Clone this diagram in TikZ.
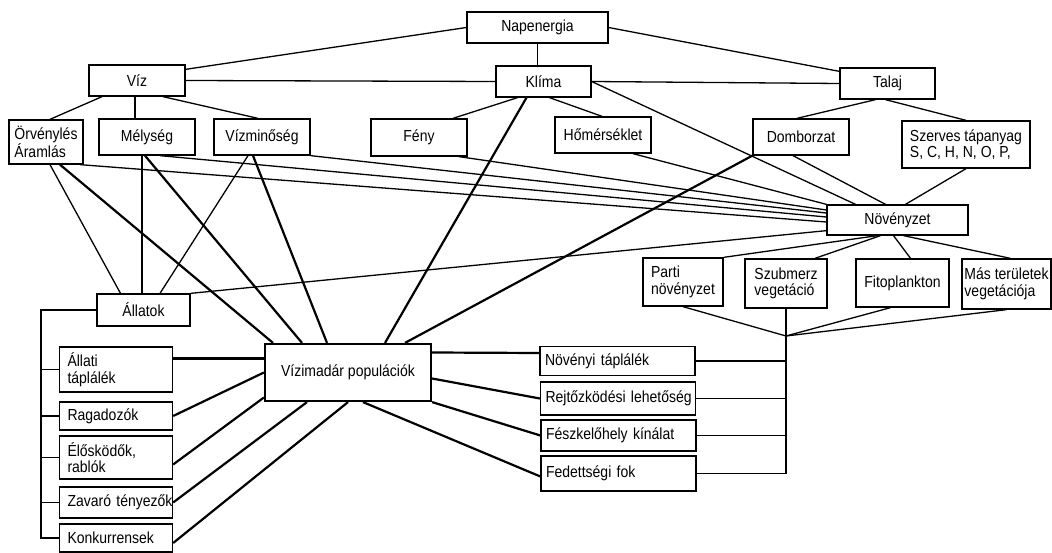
\documentclass[tikz,border=0pt]{standalone}
\usepackage{fontspec}
\setmainfont{Liberation Sans}[FakeStretch=0.875]
\usepackage{tikz}
\tikzset{
  box/.style   = {draw, line width=1.3pt, font=\fontsize{16}{16.5}\selectfont,
                  inner sep=2pt, minimum height=31pt, align=center},
  lbox/.style  = {box, align=left, inner xsep=8pt, text width=#1},
  link/.style  = {line width=1.3pt},
  blink/.style = {line width=2.2pt},
}

\begin{document}
\begin{tikzpicture}[x=1pt, y=-1pt]
\useasboundingbox (0,0) rectangle (1052,553);
\node[box, minimum width=141pt] (napen) at (537.5,27.5) {Napenergia};
\node[box, minimum width=96pt]  (viz)   at (137,80.5)   {Víz};
\node[box, minimum width=95pt]  (klima) at (543.5,81.5) {Klíma};
\node[box, minimum width=95pt]  (talaj) at (887.5,83.5) {Talaj};
\node[box, minimum width=74pt, minimum height=44pt, align=left] (orv) at (46,142) {Örvénylés\\Áramlás};
\node[box, minimum width=96pt, minimum height=36pt] (melyseg) at (147,137)   {Mélység};
\node[box, minimum width=96pt, minimum height=36pt] (vizmin)  at (262,137)   {Vízminőség};
\node[box, minimum width=96pt, minimum height=37pt] (feny)    at (419,137.5) {Fény};
\node[box, minimum width=96pt, minimum height=36pt] (homer)   at (603,135)   {Hőmérséklet};
\node[box, minimum width=96pt, minimum height=36pt] (domb)    at (801,137)   {Domborzat};
\node[box, minimum width=128pt, minimum height=47pt, align=left] (szerves) at (966,144.5) {Szerves tápanyag\\S, C, H, N, O, P,};
\node[box, minimum width=141pt, minimum height=30pt] (noveny) at (897.5,220) {Növényzet};
\node[box, minimum width=80pt, minimum height=48pt, align=left] (parti) at (683,282)   {Parti\\növényzet};
\node[box, minimum width=82pt, minimum height=49pt, align=left] (szubm) at (786,283.5) {Szubmerz\\vegetáció};
\node[box, minimum width=93pt, minimum height=48pt] (fito) at (902.5,283) {Fitoplankton};
\node[box, minimum width=89pt, minimum height=50pt, align=left] (mas) at (1006.5,284) {Más területek\\vegetációja};
\node[box, minimum width=93pt, minimum height=32pt] (allatok) at (143.5,310) {Állatok};
\node[box, line width=2.2pt, minimum width=166pt, minimum height=57pt] (vizim) at (348,372.5) {Vízimadár populációk};
\node[lbox=97pt, minimum height=45pt] (allati) at (116,369.5) {Állati\\táplálék};
\node[lbox=97pt, minimum height=28pt] (ragad)  at (116,416)   {Ragadozók};
\node[lbox=97pt, minimum height=43pt] (elosk)  at (116,457.5) {Élősködők,\\rablók};
\node[lbox=97pt, minimum height=31pt] (zavaro) at (116,502.5) {\mbox{Zavaró tényezők}};
\node[lbox=97pt, minimum height=28pt] (konk)   at (116,538)   {Konkurrensek};
\node[lbox=145pt, inner xsep=5pt, minimum height=29pt] (novtap) at (617.5,361)   {Növényi táplálék};
\node[lbox=145pt, inner xsep=5pt, minimum height=33pt] (rejt)   at (618,398.5)   {\mbox{Rejtőzködési lehetőség}};
\node[lbox=145pt, inner xsep=5pt, minimum height=31pt] (feszk)  at (618.5,435.5) {Fészkelőhely kínálat};
\node[lbox=145pt, inner xsep=5pt, minimum height=35pt] (fedett) at (618.5,473.5) {Fedettségi fok};
\coordinate (lft) at (41,310);
\coordinate (veg) at (786,336);

\draw[link] (napen.west) -- ([yshift=-5pt]viz.north east);
\draw[link] (napen.south) -- (napen.south |- klima.north);
\draw[link] (napen.east) -- ([yshift=-4pt]talaj.north west);
\draw[link] (viz.east) -- (klima.west);
\draw[link] (klima.east) -- (talaj.west);
\draw[link] ([xshift=-35pt]viz.south) -- ([xshift=4pt]orv.north);
\draw[link] ([xshift=-2pt]viz.south) -- ([xshift=-12pt]melyseg.north);
\draw[link] ([xshift=26pt]viz.south) -- ([xshift=-4pt]vizmin.north);
\draw[link] ([xshift=-26pt]klima.south) -- ([xshift=34pt]feny.north);
\draw[link] ([xshift=6pt]klima.south) -- ([xshift=-1pt]homer.north);
\draw[link] ([xshift=-12pt]talaj.south) -- ([xshift=-4pt]domb.north);
\draw[link] ([xshift=-2pt]talaj.south) -- (szerves.north);

\draw[link] (klima.east) -- ([xshift=-42pt]noveny.north);
\draw[link] ([xshift=30pt]homer.south) -- (noveny.north west);
\draw[link] ([xshift=-8pt]domb.south) -- ([xshift=-12pt]noveny.north);
\draw[link] (szerves.south) -- ([xshift=8pt]noveny.north);
\draw[link] ([xshift=40pt]feny.south) -- ([yshift=10pt]noveny.west);
\draw[link] (vizmin.south east) -- ([yshift=7pt]noveny.west);
\draw[link] ([xshift=13pt]melyseg.south) -- ([yshift=3pt]noveny.west);
\draw[link] ([xshift=34pt]orv.south) -- ([yshift=-2pt]noveny.west);
\draw[link] (allatok.north east) -- ([yshift=5pt]noveny.south west);

\draw[link] ([xshift=4pt]orv.south) -- ([xshift=-23pt]allatok.north);
\draw[link] ([xshift=-5pt]melyseg.south) -- ([xshift=-1.5pt]allatok.north);
\draw[link] ([xshift=-14pt]vizmin.south) -- ([xshift=16.5pt]allatok.north);

\draw[link] ([xshift=-20pt]noveny.south) -- (parti.north east);
\draw[link] ([xshift=-17pt]noveny.south) -- ([xshift=29pt]szubm.north);
\draw[link] ([xshift=-4pt]noveny.south) -- ([xshift=8pt]fito.north);
\draw[link] ([xshift=6pt]noveny.south) -- ([xshift=4pt]mas.north);
\draw[link] (parti.south) -- (veg);
\draw[link] ([xshift=-12pt]fito.south) -- (veg);
\draw[link] (mas.south) -- (veg);
\draw[link] (szubm.south) -- (szubm.south |- fedett.east) -- (fedett.east);
\draw[link] (novtap.east) -- (novtap.east -| szubm.south);
\draw[link] (rejt.east) -- (rejt.east -| szubm.south);
\draw[link] (feszk.east) -- (feszk.east -| szubm.south);

\draw[link] (allatok.west) -- (lft) -- (lft |- konk.west) -- (konk.west);
\draw[link] (lft |- allati.west) -- (allati.west);
\draw[link] (lft |- ragad.west) -- (ragad.west);
\draw[link] (lft |- elosk.west) -- (elosk.west);
\draw[link] (lft |- zavaro.west) -- (zavaro.west);

\draw[blink] ([xshift=14pt]orv.south) -- ([xshift=-75pt]vizim.north);
\draw[blink] ([xshift=-2pt]melyseg.south) -- ([xshift=-46pt]vizim.north);
\draw[blink] ([xshift=-9pt]vizmin.south) -- ([xshift=-21pt]vizim.north);
\draw[blink] ([xshift=-17pt]klima.south) -- ([xshift=37pt]vizim.north);
\draw[blink] (domb.south west) -- ([xshift=57pt]vizim.north);
\draw[blink] ([yshift=11pt]allati.east) -- ([yshift=14pt]vizim.west);
\draw[blink] (ragad.east) -- (vizim.west);
\draw[blink] ([yshift=-7pt]elosk.east) -- ([yshift=-25pt]vizim.west);
\draw[blink] (zavaro.east) -- ([xshift=-41pt]vizim.south);
\draw[blink] ([yshift=-5pt]konk.east) -- (vizim.south);
\draw[blink] ([yshift=20pt]vizim.east) -- ([yshift=8pt]novtap.west);
\draw[blink] ([yshift=-6pt]vizim.east) -- (rejt.west);
\draw[blink] (vizim.south east) -- (feszk.west);
\draw[blink] ([xshift=15pt]vizim.south) -- ([yshift=-3pt]fedett.west);
\end{tikzpicture}
\end{document}
